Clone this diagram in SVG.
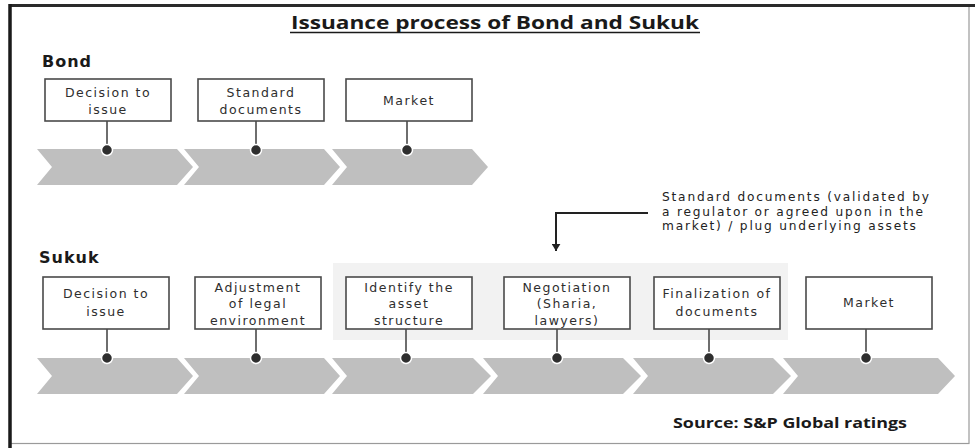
<svg xmlns="http://www.w3.org/2000/svg" width="975" height="448" viewBox="0 0 975 448">
<defs>
<style>
.bg{fill:#ffffff}
.shade{fill:#f2f2f2}
.chev{fill:#bfbfbf}
.box{fill:#ffffff;stroke:#4a4a4a;stroke-width:1.6}
.stem{stroke:#4a4a4a;stroke-width:1.6}
.dot{fill:#2e2e2e;stroke:#ffffff;stroke-width:1.5}
.bt{font-family:"DejaVu Sans",sans-serif;font-size:12.5px;fill:#2e2e2e;text-anchor:middle;letter-spacing:1.5px}
.note{font-family:"DejaVu Sans",sans-serif;font-size:12.2px;fill:#222222;letter-spacing:1.8px}
.lbl{font-family:"DejaVu Sans",sans-serif;font-size:16px;font-weight:bold;fill:#1a1a1a;letter-spacing:1px}
.title{font-family:"Open Sans",sans-serif;font-size:18px;font-weight:bold;fill:#1a1a1a;text-anchor:middle}
.src{font-family:"Open Sans",sans-serif;font-size:15px;font-weight:bold;fill:#1a1a1a}
</style>
<marker id="ahd" viewBox="0 0 10 8" refX="5" refY="8" markerWidth="9" markerHeight="7" orient="0" markerUnits="userSpaceOnUse">
<path d="M0,0 L10,0 L5,8 Z" fill="#222222"/>
</marker>
</defs>
<rect class="bg" x="0" y="0" width="975" height="448"/>
<g id="frame">
<rect x="10.5" y="5.5" width="958.5" height="438" fill="none" stroke="#9a9a9a" stroke-width="1.2"/>
<line x1="10" y1="5.5" x2="975" y2="5.5" stroke="#2a2a2a" stroke-width="3"/>
<line x1="10" y1="4" x2="10" y2="448" stroke="#1a1a1a" stroke-width="3.5"/>
</g>
<g id="title">
<text class="title" x="495" y="28.5" textLength="408" lengthAdjust="spacingAndGlyphs">Issuance process of Bond and Sukuk</text>
<line x1="290" y1="32.5" x2="700" y2="32.5" stroke="#1a1a1a" stroke-width="1.6"/>
</g>
<text class="lbl" x="42" y="67">Bond</text>
<text class="lbl" x="39" y="263">Sukuk</text>
<rect class="shade" x="333" y="263" width="455" height="77"/>
<g id="bond-track">
<path class="chev" d="M37,149 L177,149 L193,167 L177,185 L37,185 L52,167 Z"/>
<path class="chev" d="M184,149 L324,149 L340,167 L324,185 L184,185 L199,167 Z"/>
<path class="chev" d="M332,149 L472,149 L488,167 L472,185 L332,185 L347,167 Z"/>
</g>
<g id="sukuk-track">
<path class="chev" d="M37,358 L177,358 L193,376 L177,394 L37,394 L52,376 Z"/>
<path class="chev" d="M184,358 L324,358 L340,376 L324,394 L184,394 L199,376 Z"/>
<path class="chev" d="M332,358 L473,358 L491,376 L473,394 L332,394 L347,376 Z"/>
<path class="chev" d="M483,358 L623,358 L641,376 L623,394 L483,394 L498,376 Z"/>
<path class="chev" d="M633,358 L773,358 L791,376 L773,394 L633,394 L648,376 Z"/>
<path class="chev" d="M783,358 L938,358 L955,376 L938,394 L783,394 L798,376 Z"/>
</g>
<g id="connectors">
<line class="stem" x1="107" y1="121" x2="107" y2="150"/>
<line class="stem" x1="256" y1="121" x2="256" y2="150"/>
<line class="stem" x1="407" y1="121" x2="407" y2="150"/>
<line class="stem" x1="107" y1="329" x2="107" y2="358"/>
<line class="stem" x1="256" y1="329" x2="256" y2="358"/>
<line class="stem" x1="406" y1="329" x2="406" y2="358"/>
<line class="stem" x1="557" y1="329" x2="557" y2="358"/>
<line class="stem" x1="709" y1="329" x2="709" y2="358"/>
<line class="stem" x1="866" y1="329" x2="866" y2="358"/>
<circle class="dot" cx="107" cy="150" r="5.5"/>
<circle class="dot" cx="256" cy="150" r="5.5"/>
<circle class="dot" cx="407" cy="150" r="5.5"/>
<circle class="dot" cx="107" cy="358" r="5.5"/>
<circle class="dot" cx="256" cy="358" r="5.5"/>
<circle class="dot" cx="406" cy="358" r="5.5"/>
<circle class="dot" cx="557" cy="358" r="5.5"/>
<circle class="dot" cx="709" cy="358" r="5.5"/>
<circle class="dot" cx="866" cy="358" r="5.5"/>
<polyline points="648,213 556,213 556,251" fill="none" stroke="#222222" stroke-width="2" marker-end="url(#ahd)"/>
</g>
<g id="bond-decision">
<rect class="box" x="45" y="79" width="126" height="42"/>
<text class="bt" x="108" y="96.5">Decision to</text>
<text class="bt" x="108" y="113.5">issue</text>
</g>
<g id="bond-standard">
<rect class="box" x="198" y="79" width="126" height="42"/>
<text class="bt" x="261" y="96.5">Standard</text>
<text class="bt" x="261" y="113.5">documents</text>
</g>
<g id="bond-market">
<rect class="box" x="346" y="79" width="126" height="42"/>
<text class="bt" x="409" y="105">Market</text>
</g>
<g id="sukuk-decision">
<rect class="box" x="43" y="277" width="126" height="52"/>
<text class="bt" x="106" y="297.5">Decision to</text>
<text class="bt" x="106" y="315.5">issue</text>
</g>
<g id="sukuk-adjustment">
<rect class="box" x="195" y="277" width="126" height="52"/>
<text class="bt" x="258" y="291.5">Adjustment</text>
<text class="bt" x="258" y="308">of legal</text>
<text class="bt" x="258" y="324.5">environment</text>
</g>
<g id="sukuk-identify">
<rect class="box" x="346" y="277" width="126" height="52"/>
<text class="bt" x="409" y="291.5">Identify the</text>
<text class="bt" x="409" y="308">asset</text>
<text class="bt" x="409" y="324.5">structure</text>
</g>
<g id="sukuk-negotiation">
<rect class="box" x="504" y="277" width="126" height="52"/>
<text class="bt" x="567" y="291.5">Negotiation</text>
<text class="bt" x="567" y="308">(Sharia,</text>
<text class="bt" x="567" y="324.5">lawyers)</text>
</g>
<g id="sukuk-finalization">
<rect class="box" x="654" y="277" width="126" height="52"/>
<text class="bt" x="717" y="297.5">Finalization of</text>
<text class="bt" x="717" y="315.5">documents</text>
</g>
<g id="sukuk-market">
<rect class="box" x="806" y="277" width="126" height="52"/>
<text class="bt" x="869" y="306.5">Market</text>
</g>
<g id="note">
<text class="note" x="662" y="201">Standard documents (validated by</text>
<text class="note" x="662" y="215.5">a regulator or agreed upon in the</text>
<text class="note" x="662" y="230">market) / plug underlying assets</text>
</g>
<text class="src" x="673" y="428" textLength="234" lengthAdjust="spacingAndGlyphs">Source: S&amp;P Global ratings</text>
</svg>
